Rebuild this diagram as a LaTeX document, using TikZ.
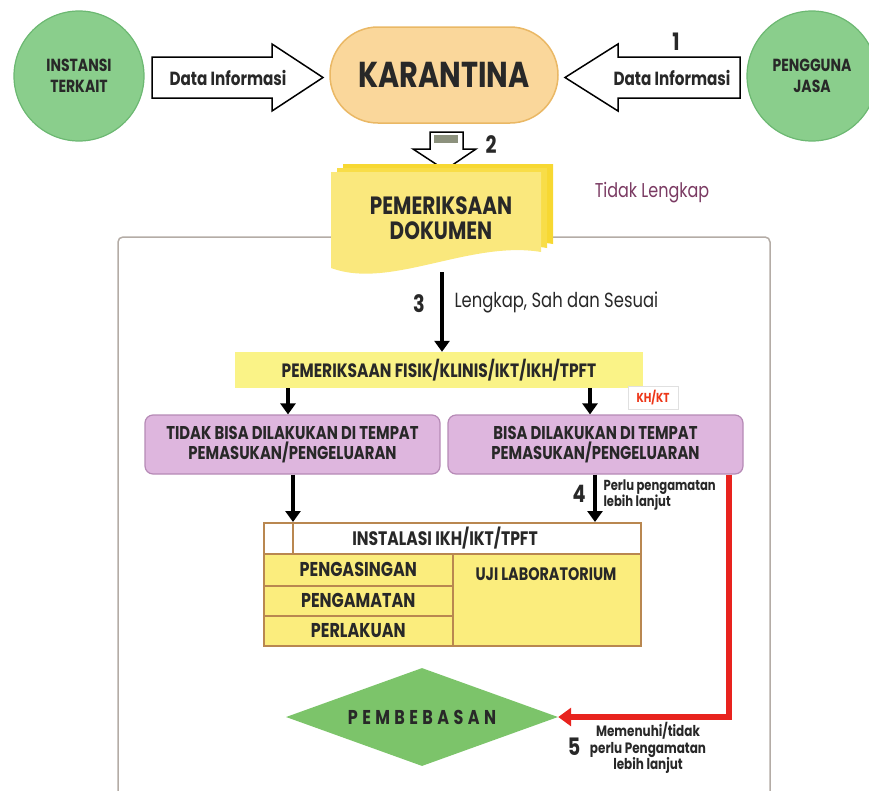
\documentclass[tikz,border=0pt]{standalone}
\usepackage{fontspec}
\setmainfont{Poppins}[FakeStretch=0.8]
\usepackage{xcolor}
\definecolor{ColGreen}{RGB}{138,206,140}
\definecolor{ColGreenD}{RGB}{108,184,114}
\definecolor{ColOrange}{RGB}{250,215,155}
\definecolor{ColOrangeD}{RGB}{234,184,101}
\definecolor{ColDoc}{RGB}{250,232,125}
\definecolor{ColDocB}{RGB}{247,216,50}
\definecolor{ColYellow}{RGB}{250,243,135}
\definecolor{ColPurple}{RGB}{222,182,222}
\definecolor{ColPurpleD}{RGB}{182,138,182}
\definecolor{ColTable}{RGB}{251,237,125}
\definecolor{ColTableD}{RGB}{185,135,80}
\definecolor{ColDiamond}{RGB}{124,196,106}
\definecolor{ColRed}{RGB}{232,35,30}
\definecolor{ColFrame}{RGB}{180,172,166}
\definecolor{ColText}{RGB}{40,40,40}
\definecolor{ColLabel}{RGB}{122,58,98}
\definecolor{ColGrey}{RGB}{140,145,125}
\usepackage{tikz}
\usetikzlibrary{shapes.geometric}
\usetikzlibrary{arrows.meta}
\tikzstyle{Circle}=[circle,draw=ColGreenD,fill=ColGreen,line width=1.2pt,
minimum size=130pt,inner sep=0pt,align=center,text=ColText,
font=\fontsize{17.5}{21}\selectfont\bfseries]
\tikzstyle{Pill}=[rectangle,rounded corners=48pt,draw=ColOrangeD,fill=ColOrange,
line width=1.5pt,minimum width=228pt,minimum height=96pt,text=ColText,
font=\fontsize{36}{40}\selectfont\bfseries]
\tikzstyle{Block}=[draw=black,fill=white,line width=1.5pt,line join=miter]
\tikzstyle{BlockText}=[text=ColText,font=\fontsize{19}{22}\selectfont\bfseries]
\tikzstyle{Step}=[text=ColText,font=\fontsize{24}{26}\selectfont\bfseries]
\tikzstyle{Note}=[text=ColText,align=center,font=\fontsize{14.5}{16.5}\selectfont\bfseries]
\tikzstyle{Purple}=[rectangle,rounded corners=8pt,draw=ColPurpleD,fill=ColPurple,
line width=1.2pt,minimum width=295pt,minimum height=59pt,align=center,text=ColText,
font=\fontsize{18.5}{20}\selectfont\bfseries]
\tikzstyle{Cell}=[rectangle,draw=ColTableD,fill=ColTable,line width=1.5pt,
inner sep=0pt,anchor=north west,text=ColText,font=\fontsize{20}{22}\selectfont\bfseries]
\tikzstyle{Edge}=[draw=black,line width=3.5pt,-{Triangle[length=11pt,width=15pt]}]
\tikzstyle{RedEdge}=[draw=ColRed,line width=6pt,-{Triangle[length=13pt,width=18pt]}]

\begin{document}
\begin{tikzpicture}[x=1pt,y=-1pt]
        \useasboundingbox (0,0) rectangle (869,790);
        % frame
        \draw[ColFrame,line width=1.5pt,rounded corners=5pt]
            (118,792)--(118,237)--(770,237)--(770,792);
        % top row
        \node[Circle](inst)at(79,76){INSTANSI\\TERKAIT};
        \node[Circle](jasa)at(812,76){PENGGUNA\\JASA};
        \node[Pill](kar)at(444,75){KARANTINA};
        \draw[Block](152,57)--(272,57)--(272,44)--(323,77.5)--(272,111)--(272,98)
            --(152,98)--cycle;
        \node[BlockText](infoL)at(228,77.5){Data Informasi};
        \draw[Block](740,57)--(618,57)--(618,44)--(565,77.5)--(618,111)--(618,98)
            --(740,98)--cycle;
        \node[BlockText](infoR)at(672,77.5){Data Informasi};
        \node[Step](n1)at(676,42){1};
        % down arrow 2
        \draw[Block](430,132)--(463,132)--(463,149)--(476,149)--(445,170)--(413,149)
            --(430,149)--cycle;
        \fill[ColGrey](434,135) rectangle (458,143);
        \node[Step](n2)at(491,145){2};
        % document
        \foreach \d/\c in {12/ColDocB,6/ColDocB!70!ColDoc,0/ColDoc}{
            \fill[\c,xshift=\d pt,yshift=\d*2/3 pt](331,172)--(541,172)--(541,252)
                .. controls (470,240) and (390,290) .. (331,268)--cycle;
        }
        \node[text=ColText,align=center,font=\fontsize{25}{25}\selectfont\bfseries]
            (doc)at(441,218){PEMERIKSAAN\\DOKUMEN};
        \coordinate(docb)at(442,272);
        \node[text=ColLabel,font=\fontsize{20}{22}\selectfont](tidak)at(652,193){Tidak Lengkap};
        % physical check
        \node[rectangle,fill=ColYellow,minimum width=408pt,minimum height=36pt,text=ColText,
            font=\fontsize{19.3}{21}\selectfont\bfseries](fisik)at(439,370)
            {PEMERIKSAAN FISIK/KLINIS/IKT/IKH/TPFT};
        \draw[Edge](docb)--(docb|-fisik.north);
        \node[Step](n3)at(419,304){3};
        \node[text=ColText,anchor=west,font=\fontsize{20.5}{22}\selectfont](lengkap)
            at(451,302){Lengkap, Sah dan Sesuai};
        \node[rectangle,draw=black!12,fill=white,minimum width=50pt,minimum height=23pt,
            text=ColRed!80!orange,font=\fontsize{13}{14}\selectfont\bfseries](khkt)
            at(653,398){KH/KT};
        % two cases
        \node[Purple](tdk)at(292.5,444.5){TIDAK BISA DILAKUKAN DI TEMPAT\\PEMASUKAN/PENGELUARAN};
        \node[Purple](bisa)at(595.5,444.5){BISA DILAKUKAN DI TEMPAT\\PEMASUKAN/PENGELUARAN};
        \coordinate(xa)at(288,0);
        \coordinate(xb)at(590,0);
        \coordinate(xc)at(293,0);
        \coordinate(xd)at(595,0);
        \coordinate(xr)at(729,0);
        \draw[Edge](fisik.south-|xa)--(tdk.north-|xa);
        \draw[Edge](fisik.south-|xb)--(bisa.north-|xb);
        % installation table
        \node[Cell,fill=white,minimum width=377pt,minimum height=31pt](head)at(263,522){};
        \draw[ColTableD,line width=1.5pt](head.north-|xc)--(head.south-|xc);
        \node[text=ColText,font=\fontsize{19.5}{21}\selectfont\bfseries](headt)at(445,538)
            {INSTALASI IKH/IKT/TPFT};
        \node[Cell,minimum width=189pt,minimum height=32pt](r1)at(263,553){PENGASINGAN};
        \node[Cell,minimum width=189pt,minimum height=30pt](r2)at(263,585){PENGAMATAN};
        \node[Cell,minimum width=189pt,minimum height=30pt](r3)at(263,615){PERLAKUAN};
        \node[Cell,minimum width=188pt,minimum height=92pt](uji)at(452,553){};
        \node[text=ColText,font=\fontsize{18}{21}\selectfont\bfseries](ujit)at(546,574)
            {UJI LABORATORIUM};
        \draw[Edge](tdk.south-|xc)--(head.north-|xc);
        \draw[Edge](bisa.south-|xd)--(head.north-|xd);
        \node[Step](n4)at(579,494){4};
        \node[Note,anchor=west,align=left](perlu)at(600,495){Perlu pengamatan\\lebih lanjut};
        % release
        \node[diamond,fill=ColDiamond,aspect=2.78,inner sep=0pt,minimum width=272pt,
            minimum height=98pt,text=ColText,
            font=\fontsize{20}{22}\selectfont\bfseries\addfontfeature{LetterSpace=22}]
            (bebas)at(422,717){PEMBEBASAN};
        \draw[RedEdge,rounded corners=0pt](bisa.south-|xr)|-(bebas.east);
        \node[Step](n5)at(574,747){5};
        \node[Note,font=\fontsize{15}{16.5}\selectfont\bfseries](memenuhi)at(648,748)
            {Memenuhi/tidak\\perlu Pengamatan\\lebih lanjut};
    \end{tikzpicture}
\end{document}
